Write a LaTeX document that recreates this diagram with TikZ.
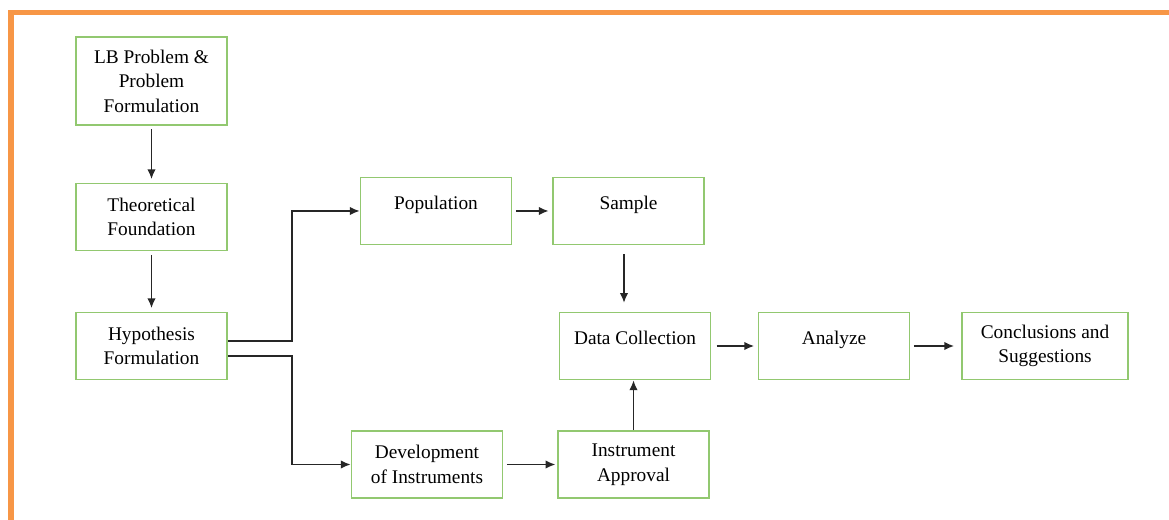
\documentclass[tikz,border=0pt]{standalone}
\usepackage{fontspec}
\setmainfont{Liberation Serif}
\usepackage{tikz}
\usetikzlibrary{arrows}
\usetikzlibrary{arrows.meta}
\usetikzlibrary{positioning}
\usetikzlibrary{calc}
\usepackage{xcolor}
\definecolor{boxgreen}{RGB}{146,200,112}
\definecolor{frameorange}{RGB}{247,150,70}
\tikzset{
  >={Latex[length=5.5pt, width=4.8pt]},
  % lift single-line labels towards the top of the box
  oneline/.style={text depth=0.34cm}
}

\begin{document}
\begin{tikzpicture}[node distance=2.6cm, auto, font=\fontsize{11pt}{14pt}\selectfont]
    % Define styles
    \tikzstyle{block} = [rectangle, draw=boxgreen, line width=1.1pt, align=center, inner sep=0pt, minimum width=3.02cm, minimum height=1.34cm]
    \tikzstyle{line} = [draw, ->, line width=0.75pt, black!85]

    % Page and frame
    \useasboundingbox (0,0) rectangle (23.38,-10.4);
    \draw[frameorange, line width=0.11cm] (0.22,-10.4) |- (23.38,-0.25);

    % Place nodes
    \node [block, minimum height=1.76cm] (problem) at (3.03,-1.62) {LB Problem \&\\ Problem\\ Formulation};
    \node [block, below of=problem, node distance=2.72cm] (theory) {Theoretical\\ Foundation};
    \node [block, below of=theory, node distance=2.58cm] (hypothesis) {Hypothesis\\ Formulation};
    \node [block, oneline] (population) at (8.72,-4.22) {Population};
    \node [block, oneline, right of=population, node distance=3.85cm] (sample) {Sample};
    \node [block, oneline] (collection) at (12.7,-6.92) {Data Collection};
    \node [block, oneline, right of=collection, node distance=3.98cm] (analyze) {Analyze};
    \node [block, right of=analyze, node distance=4.22cm, minimum width=3.32cm] (conclusion) {Conclusions and\\ Suggestions};
    \node [block] (development) at (8.54,-9.29) {Development\\ of Instruments};
    \node [block, right of=development, node distance=4.13cm] (approval) {Instrument\\ Approval};

    % Draw edges
    \path [line, shorten <=2pt, shorten >=2pt] (problem) -- (theory);
    \path [line, shorten <=2pt, shorten >=2pt] (theory) -- (hypothesis);
    \path [line] ([yshift=0.1cm]hypothesis.east) -- ++(1.28,0) |- (population.west);
    \path [line] ([yshift=-0.2cm]hypothesis.east) -- ++(1.28,0) |- (development.west);
    \path [line, shorten <=2pt, shorten >=2pt] (population) -- (sample);
    \path [line, shorten <=5pt, shorten >=5pt] ([xshift=-0.09cm]sample.south) -- ([xshift=-0.09cm]sample.south |- collection.north);
    \path [line, shorten <=3pt, shorten >=2pt] (collection) -- (analyze);
    \path [line, shorten <=2pt, shorten >=4pt] (analyze) -- (conclusion);
    \path [line, shorten <=2pt, shorten >=1pt] (development) -- (approval);
    \path [line] (approval.north) -- (approval.north |- collection.south);

\end{tikzpicture}
\end{document}
